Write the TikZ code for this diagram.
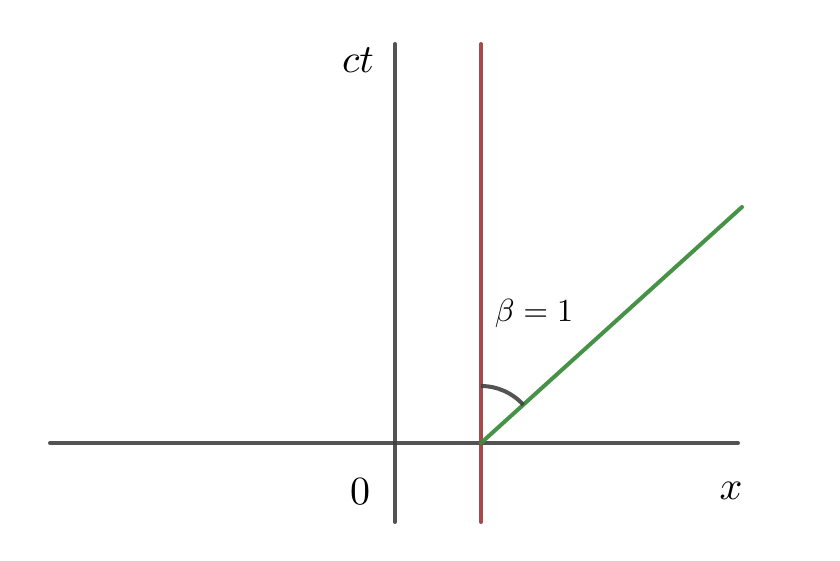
\documentclass[tikz,border=0pt]{standalone}
\usepackage{amsmath}
\begin{document}
\begin{tikzpicture}[x=1pt,y=-1pt,
  ax/.style={line width=4pt,draw=black!75,line cap=round,opacity=0.9},
  redl/.style={line width=4pt,draw={rgb,255:red,155;green,55;blue,55},line cap=round,opacity=0.9},
  greenl/.style={line width=4pt,draw={rgb,255:red,60;green,140;blue,60},line cap=round,opacity=0.95},
  big/.style={scale=4,inner sep=0pt},
  small/.style={scale=3.2,inner sep=0pt}]
\useasboundingbox (0,0) rectangle (840,561);
\coordinate (xl) at (50,443);
\coordinate (xr) at (738,443);
\coordinate (tb) at (395,522);
\coordinate (tt) at (395,44);
\coordinate (rb) at (481,522);
\coordinate (rt) at (481,44);
\coordinate (o) at (481,443);
\coordinate (g) at (742,207);
\draw[ax] (xl) -- (xr);
\draw[ax] (tb) -- (tt);
\draw[redl] (rb) -- (rt);
\draw[greenl] (o) -- (g);
\draw[ax,line cap=butt] (481,386) arc[start angle=-90,end angle=-42.1,radius=57];
\node[big] (ct) at (358,60) {$ct$};
\node[big] (zero) at (360,492) {$0$};
\node[big] (xlab) at (731,491) {$x$};
\node[small] (beta) at (534,313) {$\beta = 1$};
\end{tikzpicture}
\end{document}
